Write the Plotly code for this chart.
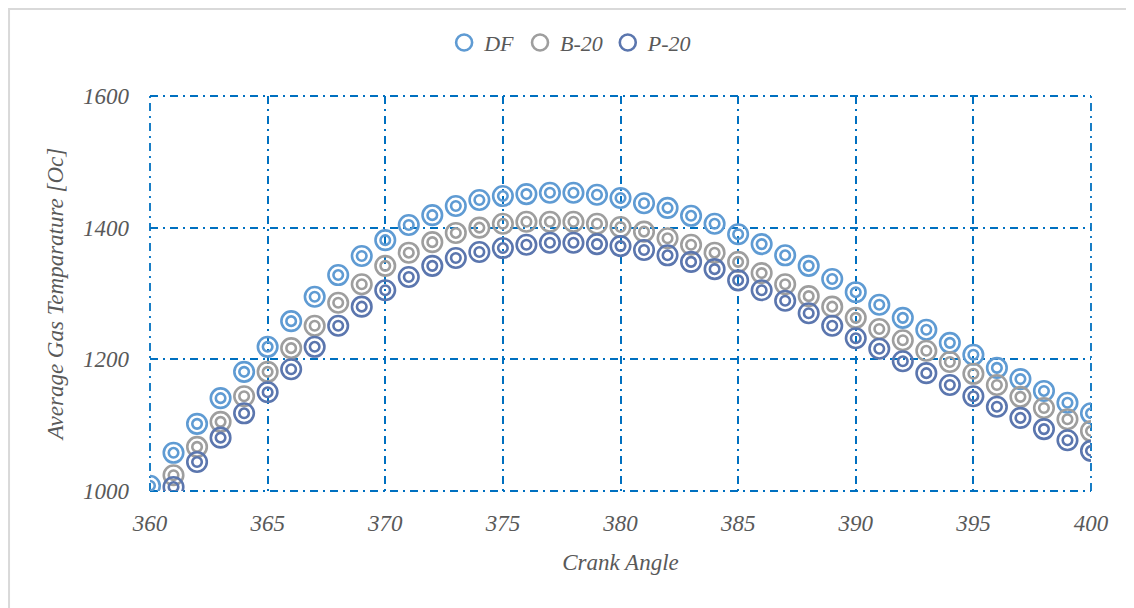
import plotly.graph_objects as go

crank_angle = list(range(360, 401))

df_temp = [1008, 1058, 1102, 1141, 1181, 1219, 1258, 1295, 1328, 1357,
           1381, 1404, 1419, 1433, 1442, 1448, 1451, 1453, 1453, 1450,
           1445, 1437, 1430, 1418, 1406, 1390, 1375, 1358, 1342, 1322,
           1302, 1283, 1263, 1245, 1225, 1207, 1187, 1170, 1152, 1134, 1118]

b20_temp = [None, 1024, 1067, 1105, 1144, 1181, 1217, 1251, 1286, 1314,
            1342, 1362, 1378, 1392, 1400, 1406, 1409, 1409, 1409, 1406,
            1401, 1394, 1384, 1374, 1362, 1348, 1331, 1314, 1296, 1280,
            1263, 1246, 1229, 1213, 1196, 1178, 1161, 1143, 1126, 1109, 1091]

p20_temp = [None, 1006, 1044, 1081, 1118, 1150, 1185, 1219, 1251, 1280,
            1305, 1325, 1342, 1354, 1363, 1369, 1374, 1377, 1377, 1375,
            1372, 1366, 1358, 1348, 1337, 1320, 1305, 1289, 1270, 1251,
            1232, 1216, 1197, 1179, 1161, 1144, 1128, 1111, 1094, 1077, 1061]

series_names = ["DF", "B-20", "P-20"]
series_colors = ["#5F9BD3", "#9E9E9E", "#5B76AE"]
series_values = [df_temp, b20_temp, p20_temp]

x_ticks = [360, 365, 370, 375, 380, 385, 390, 395, 400]
y_ticks = [1000, 1200, 1400, 1600]
x_range = [360, 400]
y_range = [1000, 1600]

FONT = "Liberation Serif"
TEXT_COLOR = "#595959"
GRID_COLOR = "#0070C0"
DASH = "8px,5px,2px,5px"
GRID_W = 1.8

fig = go.Figure()
for name, color, vals in zip(series_names, series_colors, series_values):
    fig.add_trace(go.Scatter(
        x=crank_angle, y=vals, mode="markers", name=name,
        legendgroup=name,
        marker=dict(symbol="circle-open", size=19.5, color=color,
                    line=dict(width=2.6, color=color)),
    ))
    fig.add_trace(go.Scatter(
        x=crank_angle, y=vals, mode="markers", name=name,
        legendgroup=name, showlegend=False, hoverinfo="skip",
        marker=dict(symbol="circle-open", size=9.5, color=color,
                    line=dict(width=2.6, color=color)),
    ))

axis_common = dict(
    showgrid=True, gridcolor=GRID_COLOR, gridwidth=GRID_W, griddash=DASH,
    zeroline=False, showline=False, ticks="", automargin=False,
    tickfont=dict(family=FONT, size=23, color=TEXT_COLOR, style="italic"),
)

fig.update_xaxes(
    range=x_range, tickvals=x_ticks, ticklabelstandoff=16,
    title=dict(text="Crank Angle", standoff=18,
               font=dict(family=FONT, size=23, color=TEXT_COLOR, style="italic")),
    **axis_common,
)
fig.update_yaxes(
    range=y_range, tickvals=y_ticks, ticklabelstandoff=20,
    title=dict(text="Average Gas Temparature [Oc]", standoff=12,
               font=dict(family=FONT, size=23, color=TEXT_COLOR, style="italic")),
    **axis_common,
)

# plot-area edge lines (plotly omits gridlines lying on the edges)
for px in (0, 1):
    fig.add_shape(type="line", xref="paper", yref="paper", x0=px, x1=px,
                  y0=0, y1=1, layer="below",
                  line=dict(color=GRID_COLOR, width=GRID_W, dash=DASH))
    fig.add_shape(type="line", xref="paper", yref="paper", x0=0, x1=1,
                  y0=px, y1=px, layer="below",
                  line=dict(color=GRID_COLOR, width=GRID_W, dash=DASH))

# chart-area border
fig.add_shape(type="rect", xref="paper", yref="paper",
              x0=-0.1498, x1=1.2, y0=-0.5, y1=1.2203,
              line=dict(color="#D9D9D9", width=2), layer="below")

fig.update_layout(
    width=1134, height=608,
    margin=dict(l=142, r=51, t=88, b=125, autoexpand=False),
    paper_bgcolor="white", plot_bgcolor="white",
    showlegend=True,
    legend=dict(orientation="h", x=0.447, xanchor="center", y=1.135, yanchor="middle",
                font=dict(family=FONT, size=22, color=TEXT_COLOR, style="italic"),
                itemsizing="trace", itemwidth=30, tracegroupgap=0,
                bgcolor="rgba(0,0,0,0)"),
)

fig.write_html("out.html")
